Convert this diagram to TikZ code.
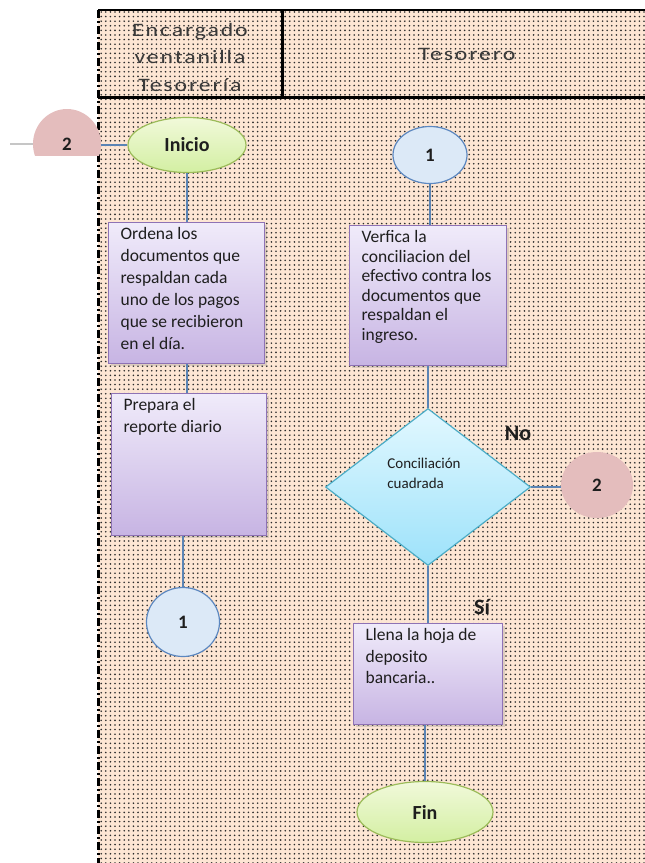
\documentclass[tikz,border=0pt]{standalone}
\usepackage{fontspec}
\setmainfont{Carlito}
\usetikzlibrary{shapes.geometric,patterns.meta,shadows,positioning}

\definecolor{peach}{HTML}{FDE6D4}
\definecolor{dotgray}{HTML}{2C2C2C}
\definecolor{headgray}{HTML}{3A3A3A}
\definecolor{lavtop}{HTML}{F0EBFA}
\definecolor{lavbot}{HTML}{C7B4E3}
\definecolor{lavline}{HTML}{8E72B5}
\definecolor{grtop}{HTML}{F1F9DA}
\definecolor{grbot}{HTML}{D3EFA2}
\definecolor{grline}{HTML}{9BBB59}
\definecolor{cytop}{HTML}{E2F8FF}
\definecolor{cybot}{HTML}{9DE2FA}
\definecolor{cyline}{HTML}{4BACC6}
\definecolor{bluefill}{HTML}{DCE9F7}
\definecolor{blueline}{HTML}{5B87C0}
\definecolor{pinkfill}{HTML}{E4BDBD}
\definecolor{wire}{HTML}{5A84B5}
\definecolor{ink}{HTML}{1E1E1E}

\begin{document}
\begin{tikzpicture}[x=1pt,y=-1pt,
  stepbox/.style={rectangle,draw=lavline,line width=1.2pt,top color=lavtop,bottom color=lavbot,
    anchor=north west,inner xsep=12pt,inner ysep=5pt,text=ink,font=\fontsize{17.5}{22}\selectfont,
    drop shadow={shadow xshift=2pt,shadow yshift=-2pt,opacity=0.25}},
  term/.style={ellipse,draw=grline,line width=1.2pt,top color=grtop,bottom color=grbot,inner sep=0pt,
    text=ink,font=\bfseries\fontsize{20}{24}\selectfont},
  bluecon/.style={ellipse,draw=blueline,line width=1.2pt,fill=bluefill,inner sep=0pt,
    text=ink,font=\bfseries\fontsize{19}{22}\selectfont},
  pinkcon/.style={ellipse,fill=pinkfill,inner sep=0pt,text=ink,font=\bfseries\fontsize{19}{22}\selectfont},
  lanehead/.style={align=center,text=headgray,inner sep=0pt,
    font=\fontsize{19}{27.5}\selectfont\addfontfeature{LetterSpace=8}},
  answer/.style={text=ink,inner sep=0pt,font=\bfseries\fontsize{22}{24}\selectfont},
  wire/.style={draw=wire,line width=1.5pt}]

\useasboundingbox (0,0) rectangle (645,863);

% swimlane panel
\fill[peach] (98,10) rectangle (645,863);
\fill[pattern={Dots[distance=4.6pt,radius=0.9pt]},pattern color=dotgray] (98,10) rectangle (645,863);
\draw[line width=3pt,dash pattern=on 8pt off 3pt on 2pt off 3pt] (98,10) -- (98,863);
\draw[line width=1.5pt] (98,10) -- (645,10);
\draw[line width=3pt] (98,97) -- (645,97);
\draw[line width=3pt] (282,10) -- (282,97);

\node[lanehead] (encargado) at (190,57) {\scalebox{1.25}[1]{Encargado}\\\scalebox{1.25}[1]{ventanilla}\\\scalebox{1.25}[1]{Tesorería}};
\node[lanehead] (tesorero) at (467,54) {\scalebox{1.25}[1]{Tesorero}};

% left lane
\begin{scope}
  \clip (0,0) rectangle (130,155);
  \node[pinkcon,minimum width=68pt,minimum height=70pt] (conL) at (67,144) {2};
\end{scope}
\coordinate (margin) at (10,144);
\node[term,minimum width=118pt,minimum height=55pt] (inicio) at (187,145) {Inicio};

\node[stepbox] (ordena) at (108,222) {\parbox[c][131pt][t]{132pt}{\raggedright
  Ordena los\\documentos que\\respaldan cada\\uno de los pagos\\que se recibieron\\en el día.}};
\node[stepbox] (prepara) at (111,393) {\parbox[c][132pt][t]{131pt}{\raggedright
  Prepara el\\reporte diario}};
\node[bluecon,minimum width=73pt,minimum height=69pt] (conB) at (183,622) {1};

% right lane
\node[bluecon,minimum width=74pt,minimum height=57pt] (conA) at (430,155) {1};
\node[stepbox,font=\fontsize{17.5}{19.5}\selectfont] (verfica) at (349,225) {\parbox[c][130pt][t]{133pt}{\raggedright
  Verfica la\\conciliacion del\\efectivo contra los\\documentos que\\respaldan el\\ingreso.}};
\node[diamond,draw=cyline,line width=1.2pt,top color=cytop,bottom color=cybot,inner sep=0pt,
  minimum width=205pt,minimum height=157pt] (dia) at (428,487) {};
\node[align=left,inner sep=0pt,text=ink,font=\fontsize{15}{20}\selectfont] (diatext) at (424,473) {Conciliación\\cuadrada};
\node[pinkcon,minimum width=72pt,minimum height=66pt] (conR) at (597,485) {2};
\node[answer] (no) at (518,433) {No};
\node[answer] (si) at (482,607) {Sí};

\node[stepbox,font=\fontsize{17.5}{21.5}\selectfont] (llena) at (353,623) {\parbox[c][91pt][t]{125pt}{\raggedright
  Llena la hoja de\\deposito\\bancaria..}};
\node[term,minimum width=136pt,minimum height=61pt] (fin) at (425,812) {Fin};

% connectors
\draw[gray!45,line width=1.2pt] (margin) -- (conL.west);
\draw[wire] (conL.east |- inicio.west) -- (inicio.west);
\draw[wire] (inicio.south) -- (inicio.south |- ordena.north);
\draw[wire] (inicio.south |- ordena.south) -- (inicio.south |- prepara.north);
\draw[wire] (conB.north |- prepara.south) -- (conB.north);
\draw[wire] (conA.south) -- (conA.south |- verfica.north);
\draw[wire] (dia.north |- verfica.south) -- (dia.north);
\draw[wire] (dia.east) -- (dia.east -| conR.west);
\draw[wire] (dia.south) -- (dia.south |- llena.north);
\draw[wire] (fin.north |- llena.south) -- (fin.north);
\end{tikzpicture}
\end{document}
